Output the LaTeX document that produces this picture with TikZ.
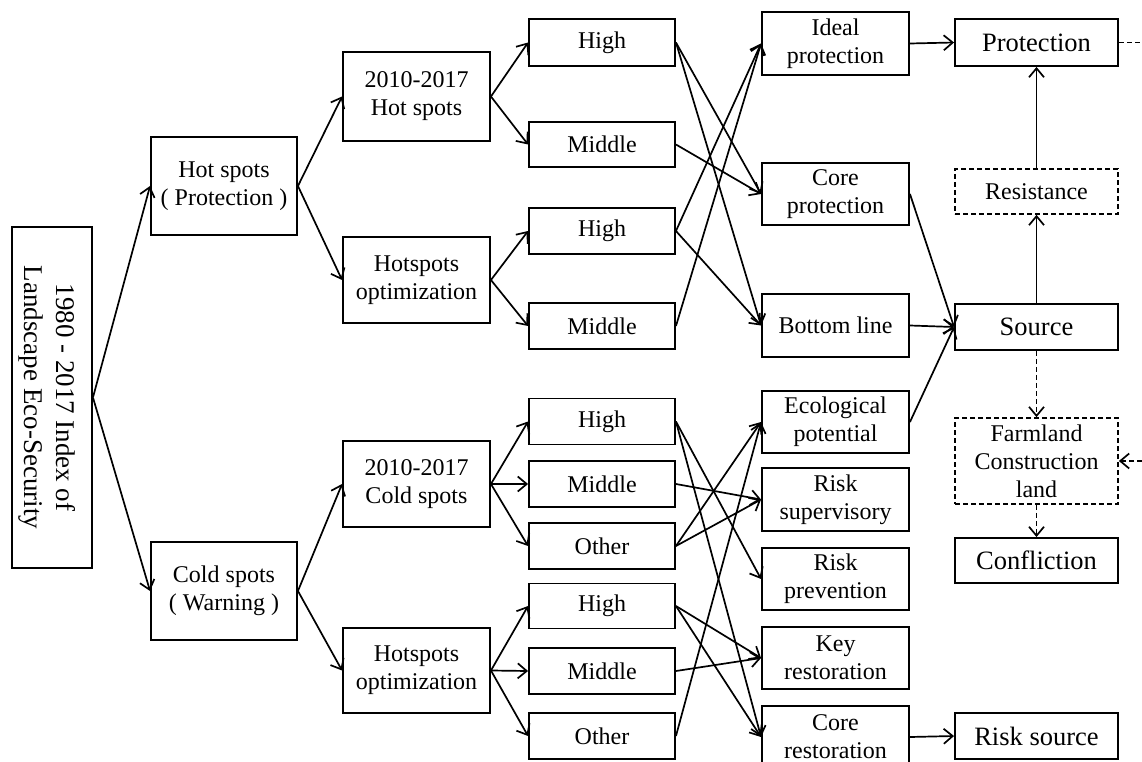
\documentclass[tikz,border=0pt]{standalone}
\usepackage{fontspec}
\setmainfont{Liberation Serif}
\usetikzlibrary{arrows.meta}
\begin{document}
\begin{tikzpicture}[x=1pt,y=-1pt,
  box/.style={draw, line width=1.9pt, inner sep=0pt, align=center, font=\fontsize{24}{28}\selectfont},
  dbox/.style={box, line width=1.7pt, dash pattern=on 5pt off 3pt},
  big/.style={font=\fontsize{26.5}{30}\selectfont},
  wh/.style 2 args={minimum width=#1pt, minimum height=#2pt},
  arr/.style={line width=1.7pt, -{Straight Barb[length=9pt,width=15pt,line width=1.7pt]}},
  darr/.style={arr, dash pattern=on 5pt off 3pt},
  ln/.style={line width=1.7pt},
  dln/.style={ln, dash pattern=on 5pt off 3pt}]
\useasboundingbox (0,0) rectangle (1142,762);
% level 1
\node[box, wh={80}{341}] (L) at (52,397.5) {};
\node[rotate=-90, align=center, inner sep=0pt, font=\fontsize{27}{32}\selectfont] (Lt) at ([xshift=-5pt]L.center) {1980 - 2017 Index of\\Landscape Eco-Security};
% level 2
\node[box, wh={146}{98}] (HS) at (224,186) {Hot spots\\( Protection )};
\node[box, wh={146}{98}] (CS) at (224,591) {Cold spots\\( Warning )};
% level 3
\node[box, wh={147}{89}] (HH) at (416.5,96.5) {2010-2017\\Hot spots};
\node[box, wh={147}{86}] (HO1) at (416.5,280) {Hotspots\\optimization};
\node[box, wh={147}{86}] (HC) at (416.5,484) {2010-2017\\Cold spots};
\node[box, wh={147}{85}] (HO2) at (416.5,670.5) {Hotspots\\optimization};
% level 4
\node[box, wh={146}{47}] (H1) at (602,42.5) {High};
\node[box, wh={146}{45}] (M1) at (602,144.5) {Middle};
\node[box, wh={146}{46}] (H2) at (602,231) {High};
\node[box, wh={146}{46}] (M2) at (602,326) {Middle};
\node[box, wh={146}{46}] (H3) at (602,421.5) {High};
\node[box, wh={146}{46}] (M3) at (602,484) {Middle};
\node[box, wh={146}{46}] (O3) at (602,546) {Other};
\node[box, wh={146}{45}] (H4) at (602,606) {High};
\node[box, wh={146}{46}] (M4) at (602,671) {Middle};
\node[box, wh={146}{46}] (O4) at (602,736) {Other};
% level 5
\node[box, wh={147}{63}] (IP) at (835.5,43.5) {Ideal\\protection};
\node[box, wh={147}{62}] (CP) at (835.5,194) {Core\\protection};
\node[box, wh={147}{63}] (BL) at (835.5,325.5) {Bottom line};
\node[box, wh={147}{62}] (EP) at (835.5,422) {Ecological\\potential};
\node[box, wh={147}{63}] (RS) at (835.5,499.5) {Risk\\supervisory};
\node[box, wh={147}{62}] (RP) at (835.5,579) {Risk\\prevention};
\node[box, wh={147}{62}] (KR) at (835.5,658) {Key\\restoration};
\node[box, wh={147}{62}] (CR) at (835.5,737) {Core\\restoration};
% level 6
\node[box, big, wh={163}{47}] (PR) at (1036.5,42.5) {Protection};
\node[dbox, wh={163}{45}] (RE) at (1036.5,191.5) {Resistance};
\node[box, big, wh={163}{46}] (SO) at (1036.5,327) {Source};
\node[dbox, wh={163}{86}] (FA) at (1036.5,461) {Farmland\\Construction\\land};
\node[box, big, wh={163}{45}] (CO) at (1036.5,560.5) {Confliction};
\node[box, big, wh={163}{46}] (RK) at (1036.5,736) {Risk source};
\coordinate (pe) at (1142,42.5);
\coordinate (fe) at (1142,461);
% connectors
\draw[arr] (L.east) -- (HS.west);
\draw[arr] (L.east) -- (CS.west);
\draw[arr] (HS.east) -- (HH.west);
\draw[arr] (HS.east) -- (HO1.west);
\draw[arr] (CS.east) -- (HC.west);
\draw[arr] (CS.east) -- (HO2.west);
\draw[arr] (HH.east) -- (H1.west);
\draw[arr] (HH.east) -- (M1.west);
\draw[arr] (HO1.east) -- (H2.west);
\draw[arr] (HO1.east) -- (M2.west);
\draw[arr] (HC.east) -- (H3.west);
\draw[arr] (HC.east) -- (M3.west);
\draw[arr] (HC.east) -- (O3.west);
\draw[arr] (HO2.east) -- (H4.west);
\draw[arr] (HO2.east) -- (M4.west);
\draw[arr] (HO2.east) -- (O4.west);
\draw[arr] (H1.east) -- (CP.west);
\draw[arr] (H1.east) -- (BL.west);
\draw[arr] (M1.east) -- (CP.west);
\draw[arr] (H2.east) -- (IP.west);
\draw[arr] (H2.east) -- (BL.west);
\draw[arr] (M2.east) -- (IP.west);
\draw[arr] (H3.east) -- (RP.west);
\draw[arr] (H3.east) -- (CR.west);
\draw[arr] (M3.east) -- (RS.west);
\draw[arr] (O3.east) -- (EP.west);
\draw[arr] (O3.east) -- (RS.west);
\draw[arr] (H4.east) -- (KR.west);
\draw[arr] (H4.east) -- (CR.west);
\draw[arr] (M4.east) -- (KR.west);
\draw[arr] (O4.east) -- (EP.west);
\draw[arr] (IP.east) -- (PR.west);
\draw[arr] (CP.east) -- (SO.west);
\draw[arr] (BL.east) -- (SO.west);
\draw[arr] (EP.east) -- (SO.west);
\draw[arr] (SO.north) -- (RE.south);
\draw[arr] (RE.north) -- (PR.south);
\draw[darr] (SO.south) -- (FA.north);
\draw[darr] (FA.south) -- (CO.north);
\draw[arr] (CR.east) -- (RK.west);
\draw[dln] (PR.east) -- (pe);
\draw[darr] (fe) -- (FA.east);
\end{tikzpicture}
\end{document}
